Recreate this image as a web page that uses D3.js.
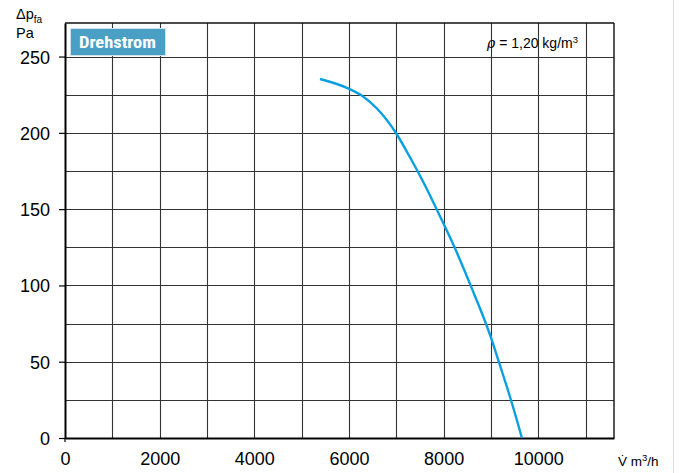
<!DOCTYPE html>
<html><head><meta charset="utf-8">
<script src="https://cdn.jsdelivr.net/npm/d3@7"></script>
<style>html,body{margin:0;padding:0;background:#fff}svg{display:block}</style>
</head><body>
<script>
const flow = [5388, 5979, 6269, 6586, 6993, 7289, 7570, 7959, 8240, 8578, 8994, 9176, 9423, 9655];
const pressure = [235.3, 229.2, 224.5, 216.1, 199.9, 184.0, 167.8, 143.0, 124.3, 99.4, 66.4, 49.0, 24.9, 0];
const xTicks = [0, 2000, 4000, 6000, 8000, 10000];
const yTicks = [0, 50, 100, 150, 200, 250];
const xGrid = d3.range(1000, 11001, 1000);
const yGrid = d3.range(25, 251, 25);

const W = 679, H = 473;
const svg = d3.select("body").append("svg").attr("width", W).attr("height", H);
const x = d3.scaleLinear().domain([0, 11600]).range([65, 614]);
const y = d3.scaleLinear().domain([0, 272]).range([438, 23]);
const font = "'Liberation Sans', Arial, Helvetica, sans-serif";

// faint right border of image
svg.append("line").attr("x1", 673.5).attr("x2", 673.5).attr("y1", 0).attr("y2", H)
  .attr("stroke", "#ddd").attr("stroke-width", 1);

const g = svg.append("g");
g.selectAll(".vg").data(xGrid).join("line")
  .attr("x1", d => Math.round(x(d)) + 0.5).attr("x2", d => Math.round(x(d)) + 0.5)
  .attr("y1", y(272)).attr("y2", y(0))
  .attr("stroke", "#333").attr("stroke-width", 1.1);
g.selectAll(".hg").data(yGrid).join("line")
  .attr("y1", d => Math.round(y(d)) + 0.5).attr("y2", d => Math.round(y(d)) + 0.5)
  .attr("x1", x(0)).attr("x2", x(11600))
  .attr("stroke", "#333").attr("stroke-width", 1.1);
// frame top/right
g.append("line").attr("x1", x(0)).attr("x2", x(11600)).attr("y1", y(272)).attr("y2", y(272))
  .attr("stroke", "#111").attr("stroke-width", 1.4);
g.append("line").attr("x1", x(11600)).attr("x2", x(11600)).attr("y1", y(272)).attr("y2", y(0))
  .attr("stroke", "#111").attr("stroke-width", 1.4);

// axes
const yAxis = svg.append("g").attr("transform", `translate(${x(0)},0)`)
  .call(d3.axisLeft(y).tickValues(yTicks).tickSize(6).tickSizeOuter(0).tickPadding(6));
yAxis.select(".domain").attr("stroke", "#000").attr("stroke-width", 2);
yAxis.selectAll(".tick line").attr("stroke", "#000").attr("stroke-width", 1.2);
yAxis.selectAll(".tick text").attr("font-family", font).attr("font-size", 18).attr("fill", "#000").attr("dy", "0.36em").attr("x", -15);

const xAxis = svg.append("g").attr("transform", `translate(0,${y(0)})`)
  .call(d3.axisBottom(x).tickValues(xTicks).tickFormat(d3.format("d")).tickSize(0).tickSizeOuter(0).tickPadding(14));
xAxis.select(".domain").attr("stroke", "#000").attr("stroke-width", 2);
xAxis.selectAll(".tick text").attr("font-family", font).attr("font-size", 18).attr("fill", "#000");
svg.append("line").attr("x1", x(0)).attr("x2", x(0)).attr("y1", y(0)).attr("y2", y(0) + 4)
  .attr("stroke", "#000").attr("stroke-width", 1.2);

// curve
const line = d3.line().x((d, i) => x(flow[i])).y(d => y(d)).curve(d3.curveMonotoneX);
svg.append("path").datum(pressure).attr("d", line)
  .attr("fill", "none").attr("stroke", "#0a9fe2").attr("stroke-width", 2.4);

// Drehstrom label
svg.append("rect").attr("x", 70.5).attr("y", 28.5).attr("width", 95).attr("height", 27)
  .attr("fill", "#4a9fc5").attr("stroke", "#cfe3ee").attr("stroke-width", 1);
svg.append("text").attr("x", 79).attr("y", 48).attr("font-family", "'Liberation Sans Narrow', 'Roboto Condensed', " + font)
  .attr("font-weight", "bold").attr("font-size", 17).attr("fill", "#fff")
  .attr("textLength", 77).attr("lengthAdjust", "spacingAndGlyphs").text("Drehstrom");

// rho label
const rt = svg.append("text").attr("x", 578).attr("y", 48).attr("text-anchor", "end")
  .attr("font-family", font).attr("font-size", 14).attr("fill", "#000");
rt.append("tspan").attr("font-style", "italic").attr("font-family", "'DejaVu Serif', serif").text("ρ");
rt.append("tspan").text(" = 1,20 kg/m");
rt.append("tspan").attr("font-size", 9.5).attr("dy", -5).text("3");

// y axis title
const yt = svg.append("text").attr("x", 16).attr("y", 19).attr("font-family", font).attr("font-size", 14.5).attr("fill", "#000");
yt.append("tspan").text("Δp");
yt.append("tspan").attr("font-size", 10).attr("dy", 4).text("fa");
svg.append("text").attr("x", 16).attr("y", 38).attr("font-family", font).attr("font-size", 14.5).attr("fill", "#000").text("Pa");

// x axis unit
const xt = svg.append("text").attr("x", 618).attr("y", 466).attr("font-family", font).attr("font-size", 13.5).attr("fill", "#000");
xt.append("tspan").text("V\u0307  m");
xt.append("tspan").attr("font-size", 9.5).attr("dy", -5).text("3");
xt.append("tspan").attr("dy", 5).text("/h");
</script>
</body></html>
